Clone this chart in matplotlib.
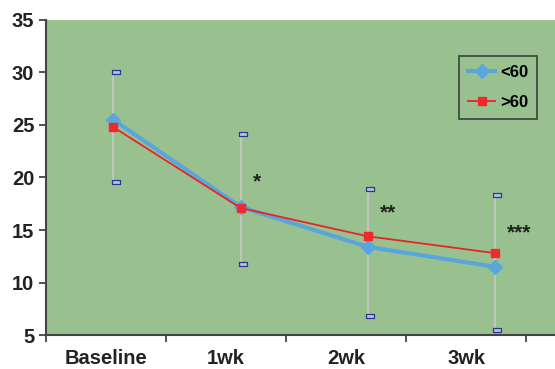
import matplotlib
matplotlib.use("Agg")
import matplotlib.pyplot as plt
import numpy as np

categories = ["Baseline", "1wk", "2wk", "3wk"]
under60 = [25.5, 17.2, 13.4, 11.5]
over60 = [24.8, 17.1, 14.4, 12.8]
err_top = [30.0, 24.1, 18.9, 18.3]
err_bottom = [19.6, 11.8, 6.8, 5.5]
stars = ["*", "**", "***"]
star_y = [19.6, 16.6, 14.7]

plt.rcParams['font.family'] = ['Liberation Sans', 'DejaVu Sans']

fig = plt.figure(figsize=(5.55, 3.69), dpi=100)
ax = fig.add_axes([0.083, 0.092, 0.917, 0.854])
ax.set_facecolor("#99c190")

idx = np.arange(len(categories))
xs = idx * 1.06 + 0.06  # points sit a bit right of the category centre

# error bars (light grey lines with small rectangular caps)
ax.vlines(xs, err_bottom, err_top, color="#c8c8c8", lw=1.2, zorder=2)
cap = [(-1, -0.5), (1, -0.5), (1, 0.5), (-1, 0.5), (-1, -0.5)]
ax.plot(xs + 0.02, err_top, ls="none", marker=cap, ms=5.5, mfc="#b8c0e8",
        mec="#2a3a8a", mew=0.9, zorder=3)
ax.plot(xs + 0.02, err_bottom, ls="none", marker=cap, ms=5.5, mfc="#b8c0e8",
        mec="#2a3a8a", mew=0.9, zorder=3)

ax.plot(xs, under60, color="#5aa6dc", lw=3, marker="D", ms=7.5,
        mfc="#5aa6dc", mec="#5aa6dc", label="<60", zorder=4)
ax.plot(xs, over60, color="#e82424", lw=1.3, marker="s", ms=6,
        mfc="#f02a2a", mec="#f02a2a", label=">60", zorder=5)

for i, s in enumerate(stars):
    ax.text(xs[i + 1] + 0.1, star_y[i], s, fontsize=15, fontweight="bold",
            color="#222222", ha="left", va="center")

ax.set_xlim(-0.5, 3.74)
ax.set_ylim(5, 35)
ax.set_yticks(range(5, 36, 5))
ax.set_xticks(idx)
ax.set_xticklabels(categories)
ax.set_xticks(np.arange(-0.5, 3.6, 1), minor=True)
ax.tick_params(axis="x", which="major", length=0, pad=10)
ax.tick_params(axis="x", which="minor", length=5, width=1.2, color="#333333")
ax.tick_params(axis="y", length=5, width=1.2, color="#333333")
for lab in ax.get_xticklabels() + ax.get_yticklabels():
    lab.set_fontsize(14.5)
    lab.set_fontweight("bold")
    lab.set_color("#222222")

for side in ["top", "right"]:
    ax.spines[side].set_visible(False)
for side in ["left", "bottom"]:
    ax.spines[side].set_color("#444444")
    ax.spines[side].set_linewidth(1.5)

leg = ax.legend(loc="upper right", bbox_to_anchor=(0.965, 0.886), frameon=True,
                fancybox=False, prop={"weight": "bold", "size": 12},
                handlelength=1.6, borderpad=0.55, labelspacing=0.9,
                handletextpad=0.3, borderaxespad=0)
leg.get_frame().set_facecolor("#99c190")
leg.get_frame().set_edgecolor("#222222")
leg.get_frame().set_linewidth(1.2)

fig.savefig("out.png", dpi=100)
